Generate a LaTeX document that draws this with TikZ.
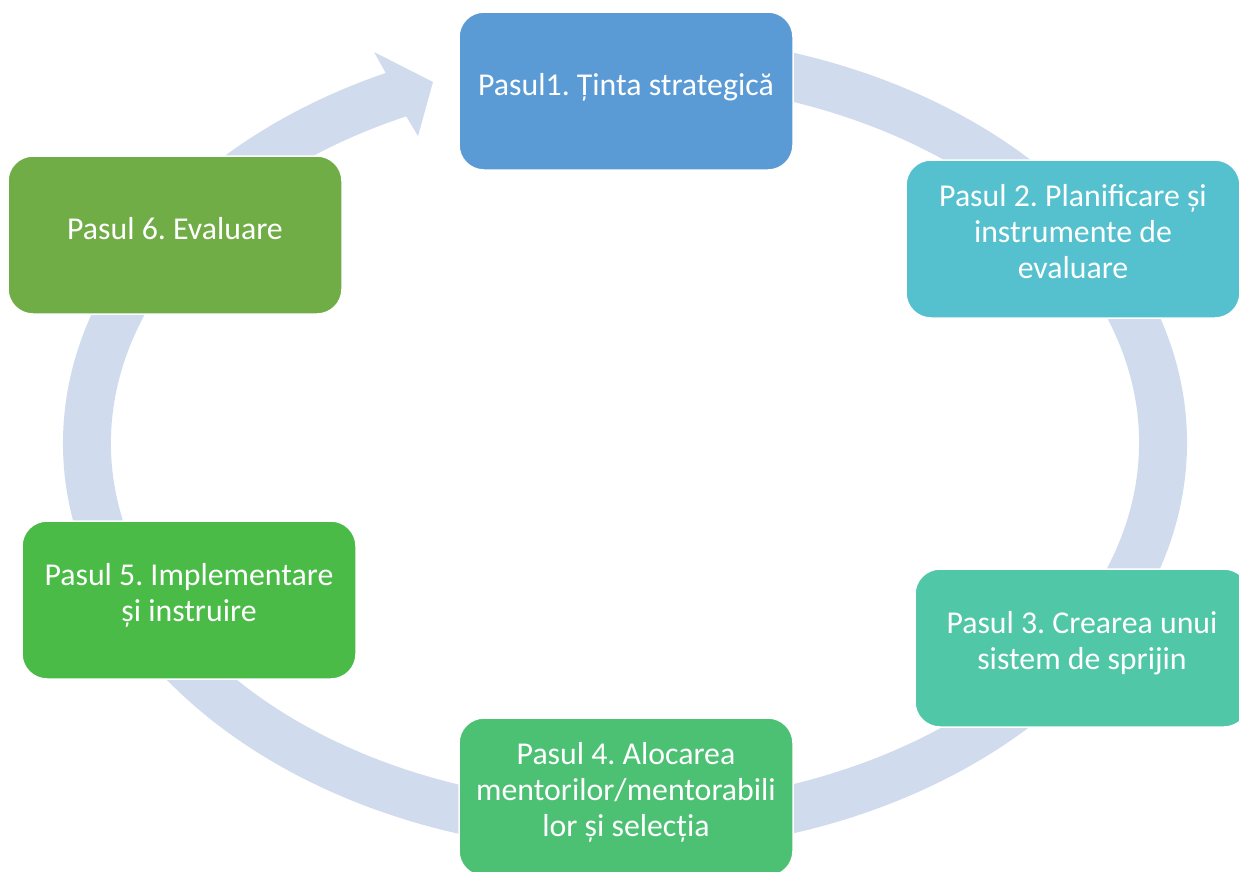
\documentclass[tikz,border=0pt]{standalone}
\usepackage{fontspec}
\setmainfont{Carlito}
\usetikzlibrary{positioning,calc}
\definecolor{ring}{HTML}{D0DBEE}
\definecolor{stepone}{HTML}{5B9BD5}
\definecolor{steptwo}{HTML}{55C1CF}
\definecolor{stepthree}{HTML}{50C7A7}
\definecolor{stepfour}{HTML}{4CC174}
\definecolor{stepfive}{HTML}{4BBB48}
\definecolor{stepsix}{HTML}{70AD47}
\frenchspacing
\tikzset{stepbox/.style={draw=white,line width=1.5pt,rounded corners=25pt,minimum width=334pt,minimum height=158pt,inner sep=0pt,align=center,text=white,font=\fontsize{31.8}{36}\selectfont,execute at begin node={\rule{0pt}{23pt}},execute at end node={\rule[-15pt]{0pt}{15pt}}}}

\begin{document}
\begin{tikzpicture}[x=1pt,y=-1pt]
\useasboundingbox (0,0) rectangle (1239,871);
\coordinate (ctr) at (625,443);
\coordinate (tip) at (433,82);
\fill[ring] ($(ctr)+(275:562 and 409)$) arc[start angle=275,end angle=604.8,x radius=562,y radius=409] -- (374,52) -- (tip) -- (418,136) -- ($(ctr)+(604.8:514 and 361)$) arc[start angle=604.8,end angle=275,x radius=514,y radius=361] -- cycle;
\node[stepbox,fill=stepone] (s1) at (626,91) {Pasul1. Ținta strategică};
\node[stepbox,fill=steptwo] (s2) at (1073,239) {Pasul 2. Planificare și\\instrumente de\\evaluare};
\node[stepbox,fill=stepthree] (s3) at (1082,648) {Pasul 3. Crearea unui\\sistem de sprijin};
\node[stepbox,fill=stepfour] (s4) at (626,797) {Pasul 4. Alocarea\\mentorilor/mentorabili\\lor și selecția};
\node[stepbox,fill=stepfive] (s5) at (189,600) {Pasul 5. Implementare\\și instruire};
\node[stepbox,fill=stepsix] (s6) at (175,235) {Pasul 6. Evaluare};
\end{tikzpicture}
\end{document}
